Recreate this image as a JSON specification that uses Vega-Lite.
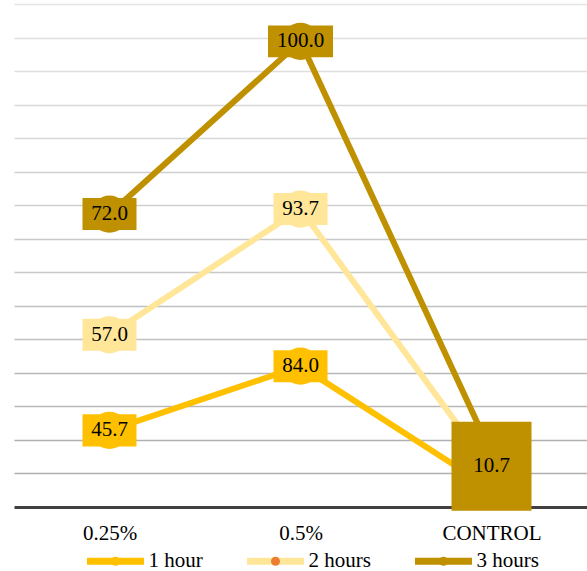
{
  "$schema": "https://vega.github.io/schema/vega-lite/v6.json",
  "width": 573,
  "height": 503,
  "autosize": {"type": "none"},
  "padding": {"left": 14, "top": 4, "right": 0, "bottom": 64},
  "background": "white",
  "config": {"view": {"stroke": null}, "font": "Liberation Serif"},
  "data": {
    "values": [
      {"cat": "0.25%", "series": "1 hour", "value": 45.7},
      {"cat": "0.5%", "series": "1 hour", "value": 84.0},
      {"cat": "CONTROL", "series": "1 hour", "value": 10.7},
      {"cat": "0.25%", "series": "2 hours", "value": 57.0},
      {"cat": "0.5%", "series": "2 hours", "value": 93.7},
      {"cat": "CONTROL", "series": "2 hours", "value": 10.7},
      {"cat": "0.25%", "series": "3 hours", "value": 72.0},
      {"cat": "0.5%", "series": "3 hours", "value": 100.0},
      {"cat": "CONTROL", "series": "3 hours", "value": 10.7}
    ]
  },
  "transform": [
    {"stack": "value", "groupby": ["cat"], "sort": [{"field": "series", "order": "ascending"}], "as": ["v0", "v1"]}
  ],
  "encoding": {
    "x": {
      "field": "cat",
      "type": "nominal",
      "scale": {"type": "point", "padding": 0.5, "domain": ["0.25%", "0.5%", "CONTROL"]},
      "axis": {
        "title": null,
        "ticks": false,
        "grid": false,
        "labelAngle": 0,
        "labelFontSize": 21,
        "labelFont": "Liberation Serif",
        "labelColor": "black",
        "labelPadding": 15,
        "domainColor": "#404040",
        "domainWidth": 3
      }
    },
    "y": {
      "field": "v1",
      "type": "quantitative",
      "scale": {"domain": [0, 300], "nice": false},
      "axis": {
        "title": null,
        "domain": false,
        "ticks": false,
        "labels": false,
        "values": [20, 40, 60, 80, 100, 120, 140, 160, 180, 200, 220, 240, 260, 280, 300],
        "gridWidth": 1.6,
        "gridColor": {
          "condition": [
            {"test": "datum.value <= 40", "value": "#b0b0b0"},
            {"test": "datum.value <= 80", "value": "#b8b8b8"},
            {"test": "datum.value <= 120", "value": "#c0c0c0"},
            {"test": "datum.value <= 160", "value": "#c8c8c8"},
            {"test": "datum.value <= 200", "value": "#d0d0d0"},
            {"test": "datum.value <= 240", "value": "#d8d8d8"},
            {"test": "datum.value <= 280", "value": "#dedede"}
          ],
          "value": "#e4e4e4"
        }
      }
    }
  },
  "layer": [
    {
      "mark": {"type": "line", "strokeWidth": 6},
      "encoding": {
        "stroke": {
          "field": "series",
          "type": "nominal",
          "scale": {"range": ["#FFC000", "#FFE699", "#BF9000"]},
          "legend": null
        }
      }
    },
    {
      "mark": {"type": "point", "shape": "circle", "filled": true, "size": 1385, "opacity": 1},
      "encoding": {
        "color": {
          "field": "series",
          "type": "nominal",
          "scale": {"domain": ["1 hour", "2 hours", "3 hours"], "range": ["#FFC000", "#FFE699", "#BF9000"]},
          "legend": {
            "title": null,
            "orient": "none",
            "legendX": 68.5,
            "legendY": 524,
            "direction": "horizontal",
            "columns": 3,
            "symbolType": "M0,0L0,-0.123L-1,-0.123L-1,0.123L1,0.123L1,-0.123L0,-0.123Z",
            "symbolSize": 3249,
            "symbolStrokeWidth": 9,
            "symbolDash": [0, 10000],
            "symbolOpacity": 1,
            "labelFontSize": 21,
            "labelFont": "Liberation Serif",
            "labelColor": "black",
            "labelOffset": 0,
            "columnPadding": 25,
            "encode": {
              "symbols": {
                "update": {
                  "stroke": {"signal": "datum.value === '1 hour' ? '#FFC000' : datum.value === '2 hours' ? '#ED7D31' : '#BF9000'"},
                  "strokeCap": {"value": "round"}
                }
              }
            }
          }
        }
      }
    },
    {
      "transform": [{"filter": "datum.cat !== 'CONTROL' && datum.value < 100"}],
      "mark": {"type": "point", "shape": "M-1,-0.593L1,-0.593L1,0.593L-1,0.593Z", "filled": true, "size": 2916, "opacity": 1},
      "encoding": {"color": {"field": "series", "type": "nominal"}}
    },
    {
      "transform": [{"filter": "datum.cat !== 'CONTROL' && datum.value >= 100"}],
      "mark": {"type": "point", "shape": "M-1,-0.49L1,-0.49L1,0.49L-1,0.49Z", "filled": true, "size": 4225, "opacity": 1},
      "encoding": {"color": {"field": "series", "type": "nominal"}}
    },
    {
      "transform": [{"filter": "datum.cat === 'CONTROL' && datum.series === '3 hours'"}],
      "mark": {"type": "point", "shape": "M-1,-1.1125L1,-1.1125L1,1.1125L-1,1.1125Z", "filled": true, "size": 6400, "opacity": 1, "yOffset": 13},
      "encoding": {"color": {"field": "series", "type": "nominal"}}
    },
    {
      "transform": [{"filter": "datum.cat !== 'CONTROL'"}],
      "mark": {"type": "text", "fontSize": 21, "font": "Liberation Serif", "baseline": "middle", "color": "black"},
      "encoding": {
        "text": {"field": "value", "type": "quantitative", "format": ".1f"}
      }
    },
    {
      "transform": [{"filter": "datum.cat === 'CONTROL' && datum.series === '3 hours'"}],
      "mark": {"type": "text", "fontSize": 21, "font": "Liberation Serif", "baseline": "middle", "yOffset": 13, "color": "black"},
      "encoding": {
        "text": {"field": "value", "type": "quantitative", "format": ".1f"}
      }
    }
  ]
}
